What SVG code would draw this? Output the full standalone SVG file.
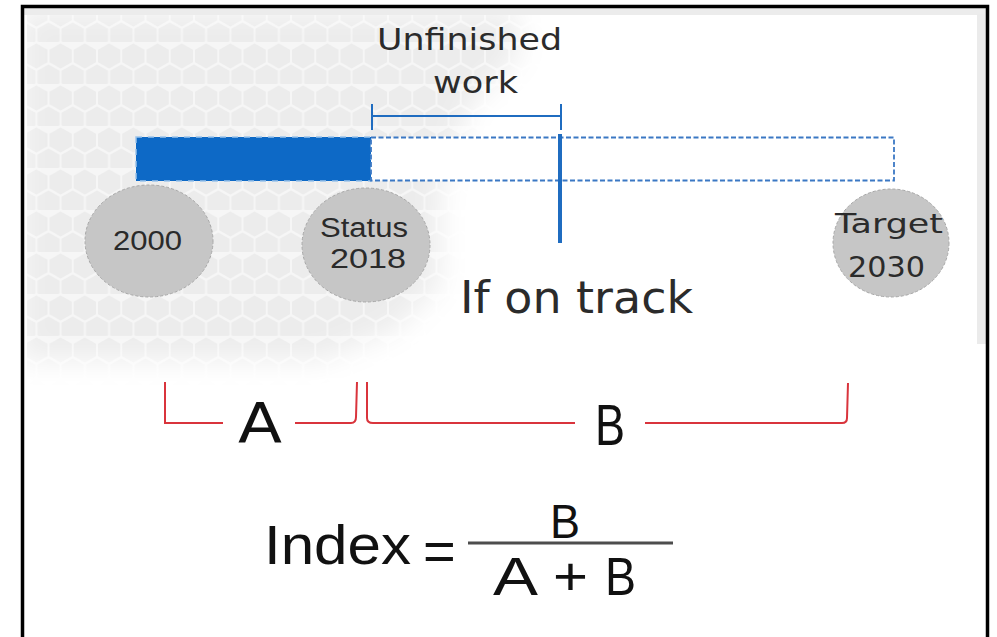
<svg xmlns="http://www.w3.org/2000/svg" width="997" height="637" viewBox="0 0 997 637">
  <defs>
    <pattern id="hex" width="24.25" height="42" patternUnits="userSpaceOnUse">
      <rect width="24.25" height="42" fill="#f6f6f6"/>
      <polygon points="12.12,1.5 23.2,7.8 23.2,20.2 12.12,26.5 1.05,20.2 1.05,7.8" fill="#ececec"/>
      <polygon points="0,22.5 11.07,28.8 11.07,41.2 0,47.5 -11.07,41.2 -11.07,28.8" fill="#ececec"/>
      <polygon points="24.25,22.5 35.32,28.8 35.32,41.2 24.25,47.5 13.18,41.2 13.18,28.8" fill="#ececec"/>
    </pattern>
    <filter id="soft" x="-20%" y="-20%" width="140%" height="140%">
      <feGaussianBlur stdDeviation="14"/>
    </filter>
    <mask id="fademask" maskUnits="userSpaceOnUse" x="0" y="0" width="997" height="637">
      <polygon points="20,10 515,10 520,55 470,105 440,190 440,285 395,330 320,360 20,360" fill="#fff" filter="url(#soft)"/>
    </mask>
  </defs>
  <style>
    .gothic { font-family: "DejaVu Sans", "Liberation Sans", sans-serif; fill: #2b2b2b; }
    .arial { font-family: "Liberation Sans", Arial, sans-serif; fill: #2a2a2a; }
    .math { font-family: "Liberation Sans", Arial, sans-serif; fill: #111111; }
    .circle { fill: #c6c6c6; stroke: #a8a8a8; stroke-width: 1; stroke-dasharray: 3 2; }
    .red { fill: none; stroke: #d9343c; stroke-width: 2; }
    .blue { stroke: #1f6cc0; fill: none; }
  </style>

  <!-- background -->
  <rect x="0" y="0" width="997" height="637" fill="#ffffff"/>
  <g id="background">
    <rect x="24" y="8" width="962" height="629" fill="#ffffff"/>
    <rect x="27" y="14" width="540" height="380" fill="url(#hex)" mask="url(#fademask)"/>
    <rect x="24" y="8" width="962" height="7" fill="#ececec"/>
    <rect x="977" y="14" width="9" height="330" fill="#ebebeb"/>
  </g>

  <!-- timeline bar -->
  <g id="bar">
    <rect x="136" y="137" width="235" height="44" fill="#0d69c6"/>
    <rect x="136" y="137" width="235" height="44" fill="none" stroke="#9cc3ea" stroke-width="1.5" stroke-dasharray="6 6"/>
    <rect x="371" y="137.5" width="523" height="43" fill="#ffffff" stroke="#3b78c4" stroke-width="1.8" stroke-dasharray="5 2.5"/>
  </g>

  <!-- connectors -->
  <g id="connectors">
    <g class="blue" stroke-width="2">
      <line x1="372" y1="116" x2="561" y2="116"/>
      <line x1="372" y1="104" x2="372" y2="130"/>
      <line x1="561" y1="104" x2="561" y2="130"/>
    </g>
    <line class="blue" x1="560" y1="134" x2="560" y2="243" stroke-width="4"/>
    <path class="red" d="M165,382 L165,423 L223,423"/>
    <path class="red" d="M295,423 L351,423 Q356,423 356,417 L357,382"/>
    <path class="red" d="M367,382 L367,418 Q367,423 373,423 L575,423"/>
    <path class="red" d="M645,423 L842,423 Q847,423 847,418 L848,383"/>
  </g>

  <!-- nodes -->
  <g id="node-2000">
    <ellipse class="circle" cx="149" cy="241" rx="64" ry="56"/>
    <text class="arial" x="113" y="250" font-size="28" textLength="69" lengthAdjust="spacingAndGlyphs">2000</text>
  </g>
  <g id="node-status2018">
    <ellipse class="circle" cx="366" cy="245" rx="64" ry="57"/>
    <text class="arial" x="320" y="237" font-size="27" textLength="88" lengthAdjust="spacingAndGlyphs">Status</text>
    <text class="arial" x="330" y="268" font-size="28" textLength="76" lengthAdjust="spacingAndGlyphs">2018</text>
  </g>
  <g id="node-target2030">
    <ellipse class="circle" cx="891" cy="243" rx="58" ry="54"/>
    <text class="gothic" x="835" y="233" font-size="27" textLength="108" lengthAdjust="spacingAndGlyphs">Target</text>
    <text class="gothic" x="848" y="277" font-size="28" textLength="77" lengthAdjust="spacingAndGlyphs">2030</text>
  </g>

  <g id="label-unfinished">
    <text class="gothic" x="377" y="50" font-size="31" textLength="185" lengthAdjust="spacingAndGlyphs">Unfinished</text>
    <text class="gothic" x="433" y="93" font-size="31" textLength="85" lengthAdjust="spacingAndGlyphs">work</text>
  </g>
  <g id="label-ontrack">
    <text class="gothic" x="460" y="313" font-size="44" textLength="233" lengthAdjust="spacingAndGlyphs">If on track</text>
  </g>
  <g id="label-A">
    <text class="gothic" x="238" y="442" font-size="56" textLength="44" lengthAdjust="spacingAndGlyphs" style="fill:#111">A</text>
  </g>
  <g id="label-B">
    <text class="arial" x="595" y="445" font-size="58" textLength="30" lengthAdjust="spacingAndGlyphs" style="fill:#111">B</text>
  </g>

  <!-- formula -->
  <g id="formula">
    <text class="math" x="264" y="564" font-size="56" textLength="147" lengthAdjust="spacingAndGlyphs">Index</text>
    <text class="math" x="423" y="570" font-size="56">=</text>
    <line x1="468" y1="543" x2="673" y2="543" stroke="#4d4d4d" stroke-width="3"/>
    <text class="math" x="550" y="538" font-size="48" textLength="30" lengthAdjust="spacingAndGlyphs">B</text>
    <text class="math" x="493" y="595" font-size="54" textLength="45" lengthAdjust="spacingAndGlyphs">A</text>
    <text class="math" x="553" y="595" font-size="54" textLength="35" lengthAdjust="spacingAndGlyphs">+</text>
    <text class="math" x="605" y="595" font-size="54" textLength="31" lengthAdjust="spacingAndGlyphs">B</text>
  </g>

  <!-- frame -->
  <rect x="22.5" y="6.5" width="965" height="640" fill="none" stroke="#000" stroke-width="3.5"/>
</svg>
